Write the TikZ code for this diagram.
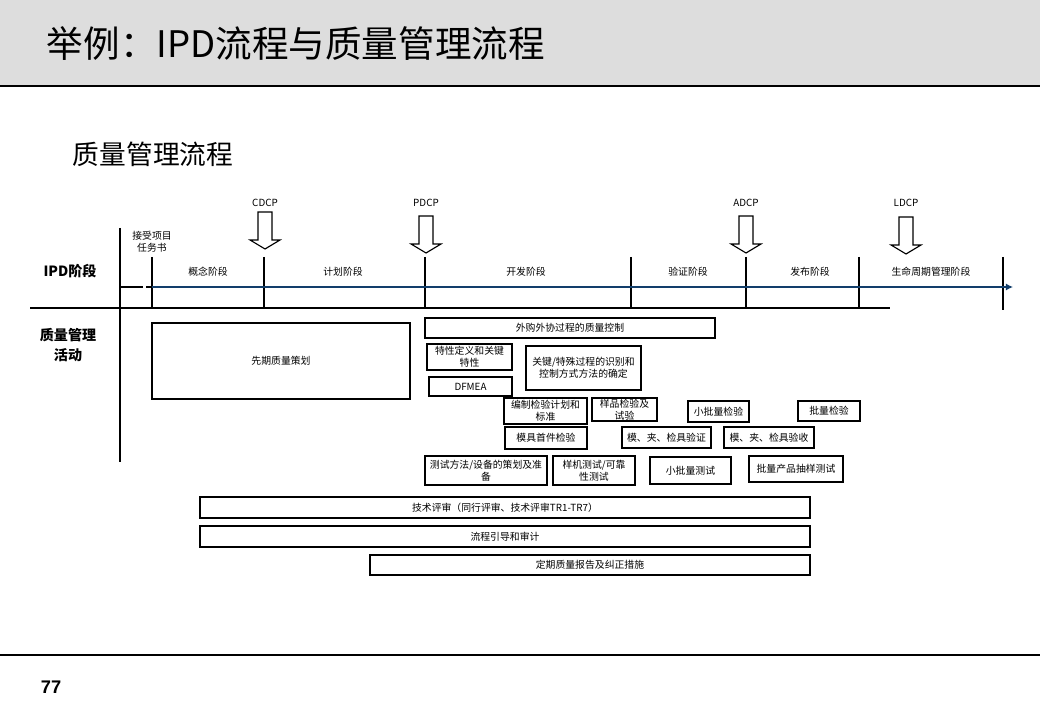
\documentclass[tikz,border=0pt]{standalone}
\usepackage{fontspec}
\setmainfont{Noto Sans CJK SC}
\newfontfamily\numfont{Liberation Sans}
\usetikzlibrary{arrows.meta}
\definecolor{headgray}{HTML}{DDDDDD}
\definecolor{timeblue}{HTML}{123E6B}

\begin{document}
\begin{tikzpicture}[x=0.025cm, y=-0.025cm, every node/.style={font=\fontsize{7}{8.5}\selectfont},
	box/.style={draw, line width=0.8pt, inner sep=0pt, align=center},
	sz/.style 2 args={minimum width=#1*0.025cm, minimum height=#2*0.025cm},
	gate/.style={draw, line width=0.8pt, fill=white},
	lab/.style={font=\bfseries\fontsize{10}{14}\selectfont, align=center}]
	\useasboundingbox (0,0) rectangle (1040,720);
	% header and footer
	\fill[headgray] (0,0) rectangle (1040,85);
	\draw[line width=1.2pt] (0,86) -- (1040,86);
	\draw[line width=0.8pt] (0,655) -- (1040,655);
	\node[anchor=west, font=\fontsize{26}{30}\selectfont] (title) at (42,44) {举例：IPD流程与质量管理流程};
	\node[anchor=west, font=\fontsize{19}{22}\selectfont] (subtitle) at (68,154) {质量管理流程};
	\node[anchor=west, font=\numfont\bfseries\fontsize{13}{15}\selectfont] (pageno) at (36,687) {77};
	% frame of the chart
	\draw[line width=0.8pt] (120,228) -- (120,462);
	\draw[line width=0.8pt] (30,308) -- (890,308);
	\foreach \x in {152,264,425,631,746,859} {\draw[line width=0.8pt] (\x,257) -- (\x,308);}
	\draw[line width=0.8pt] (1003,257) -- (1003,310);
	\draw[line width=0.8pt] (120,287) -- (143,287) (146,287) -- (152,287);
	\draw[timeblue, line width=0.9pt, -{Latex[length=5pt,width=5pt]}] (152,287) -- (1013,287);
	\node[lab] (ipd) at (70,271) {IPD阶段};
	\node[lab] (qm) at (68,345) {质量管理\\活动};
	\node[align=center] (task) at (152,242) {接受项目\\任务书};
	% phases
	\foreach \n/\x/\t in {p1/208/概念阶段, p2/343/计划阶段, p3/526/开发阶段, p4/688/验证阶段, p5/810/发布阶段, p6/931/生命周期管理阶段} {\node (\n) at (\x,272) {\t};}
	% decision gates
	\foreach \n/\x/\t in {CDCP/265/212, PDCP/426/216, ADCP/746/216, LDCP/906/217} {
		\node (\n) at (\x,203) {\n};
		\draw[gate] (\x-7,\t) -- (\x+7,\t) -- (\x+7,\t+28) -- (\x+15,\t+28) -- (\x,\t+37) -- (\x-15,\t+28) -- (\x-7,\t+28) -- cycle;
	}
	% quality activities
	\node[box, sz={258}{76}] (plan) at (281,361) {先期质量策划};
	\node[box, sz={290}{20}] (outsrc) at (570,328) {外购外协过程的质量控制};
	\node[box, sz={85}{26}] (keychar) at (469.5,357) {特性定义和关键\\特性};
	\node[box, sz={83}{19}] (dfmea) at (470.5,386.5) {DFMEA};
	\node[box, sz={115}{44}] (special) at (583.5,368) {关键/特殊过程的识别和\\控制方式方法的确定};
	\node[box, sz={83}{26}] (insplan) at (545.5,411) {编制检验计划和\\标准};
	\node[box, sz={65}{23}] (sample) at (624.5,409.5) {样品检验及\\试验};
	\node[box, sz={61}{21}] (smallinsp) at (718.5,411.5) {小批量检验};
	\node[box, sz={62}{20}] (massinsp) at (829,411) {批量检验};
	\node[box, sz={82}{22}] (firstart) at (546,438) {模具首件检验};
	\node[box, sz={89}{21}] (toolver) at (666.5,437.5) {模、夹、检具验证};
	\node[box, sz={90}{21}] (toolacc) at (769,437.5) {模、夹、检具验收};
	\node[box, sz={122}{29}] (testplan) at (486,470.5) {测试方法/设备的策划及准\\备};
	\node[box, sz={82}{29}] (prototest) at (594,470.5) {样机测试/可靠\\性测试};
	\node[box, sz={81}{27}] (smalltest) at (690.5,470.5) {小批量测试};
	\node[box, sz={94}{26}] (masstest) at (796,469) {批量产品抽样测试};
	\node[box, sz={610}{21}] (review) at (505,507.5) {技术评审（同行评审、技术评审TR1-TR7）};
	\node[box, sz={610}{21}] (audit) at (505,536.5) {流程引导和审计};
	\node[box, sz={440}{20}] (report) at (590,565) {定期质量报告及纠正措施};
\end{tikzpicture}
\end{document}
